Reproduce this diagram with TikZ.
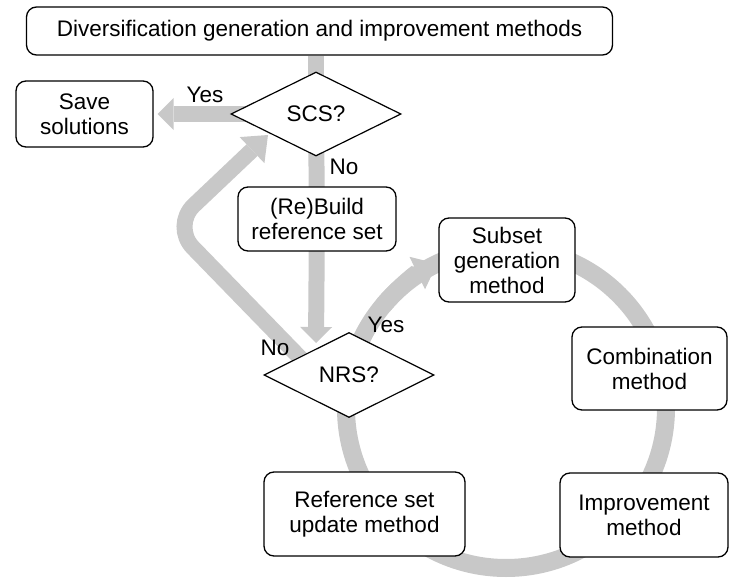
\documentclass[tikz,border=0pt]{standalone}
\usepackage{fontspec}
\setmainfont{Liberation Sans}
\usetikzlibrary{shapes.geometric,arrows.meta,backgrounds,calc}
\definecolor{flowgray}{RGB}{200,200,200}
\newcommand\figfont{\fontsize{22.5}{25}\selectfont}
\begin{document}
\begin{tikzpicture}[x=1pt,y=1pt,
  box/.style={draw, line width=1.3pt, rounded corners=10pt, fill=white, align=center, inner sep=0pt, font=\figfont},
  dia/.style={draw, diamond, line width=1.2pt, fill=white, inner sep=0pt, aspect=2, font=\figfont},
  flow/.style={draw=flowgray, line width=16pt},
  ring/.style={draw=flowgray, line width=18pt},
  headA/.style={-{Triangle[width=32pt,length=16pt,line width=0pt]}},
  headB/.style={-{Triangle[width=36pt,length=22pt,line width=0pt]}},
  lbl/.style={font=\figfont, inner sep=0pt}]
\useasboundingbox (0,0) rectangle (729,-578);
% nodes
\node[box, minimum width=586pt, minimum height=48pt] (top) at (319.5,-31) {Diversification generation and improvement methods};
\node[dia, minimum width=170pt, minimum height=84pt] (scs) at (316,-114) {SCS?};
\node[box, minimum width=137pt, minimum height=66pt] (save) at (84.5,-114) {Save\\solutions};
\node[box, minimum width=158pt, minimum height=64pt] (rebuild) at (317,-219) {(Re)Build\\reference set};
\node[dia, minimum width=170pt, minimum height=85pt] (nrs) at (349,-375) {NRS?};
\node[box, minimum width=136pt, minimum height=84pt] (subset) at (507,-260) {Subset\\generation\\method};
\node[box, minimum width=155pt, minimum height=83pt] (comb) at (649.5,-368.5) {Combination\\method};
\node[box, minimum width=168pt, minimum height=84pt] (impr) at (644,-515) {Improvement\\method};
\node[box, minimum width=201pt, minimum height=84pt] (refupd) at (364.5,-514) {Reference set\\update method};
% labels
\node[lbl] (yes1) at (205,-95) {Yes};
\node[lbl] (no1) at (344,-167) {No};
\node[lbl] (no2) at (275,-348) {No};
\node[lbl] (yes2) at (386,-325) {Yes};
% connectors
\coordinate (ringc) at (506,-408);
\coordinate (nrsin) at (316,-343);
\coordinate (loopstart) at (310,-368);
\coordinate (loopcorner) at (172,-226);
\coordinate (looptip) at (268,-135);
\begin{pgfonlayer}{background}
  \draw[ring] (ringc) circle[radius=160pt];
  \draw[ring, headB] ($(ringc)+(140:160pt)$) arc[start angle=140, end angle=115.5, radius=160pt];
  \draw[flow] (top.south -| scs.center) -- (scs.center);
  \draw[flow] (scs.center) -- (rebuild.center);
  \draw[flow, headA] (rebuild.center) -- (nrsin);
  \draw[flow, headA, shorten >=4pt] (scs.center) -- (save.east);
  \draw[flow, headB, rounded corners=30pt] (loopstart) -- (loopcorner) -- (looptip);
\end{pgfonlayer}
\end{tikzpicture}
\end{document}
